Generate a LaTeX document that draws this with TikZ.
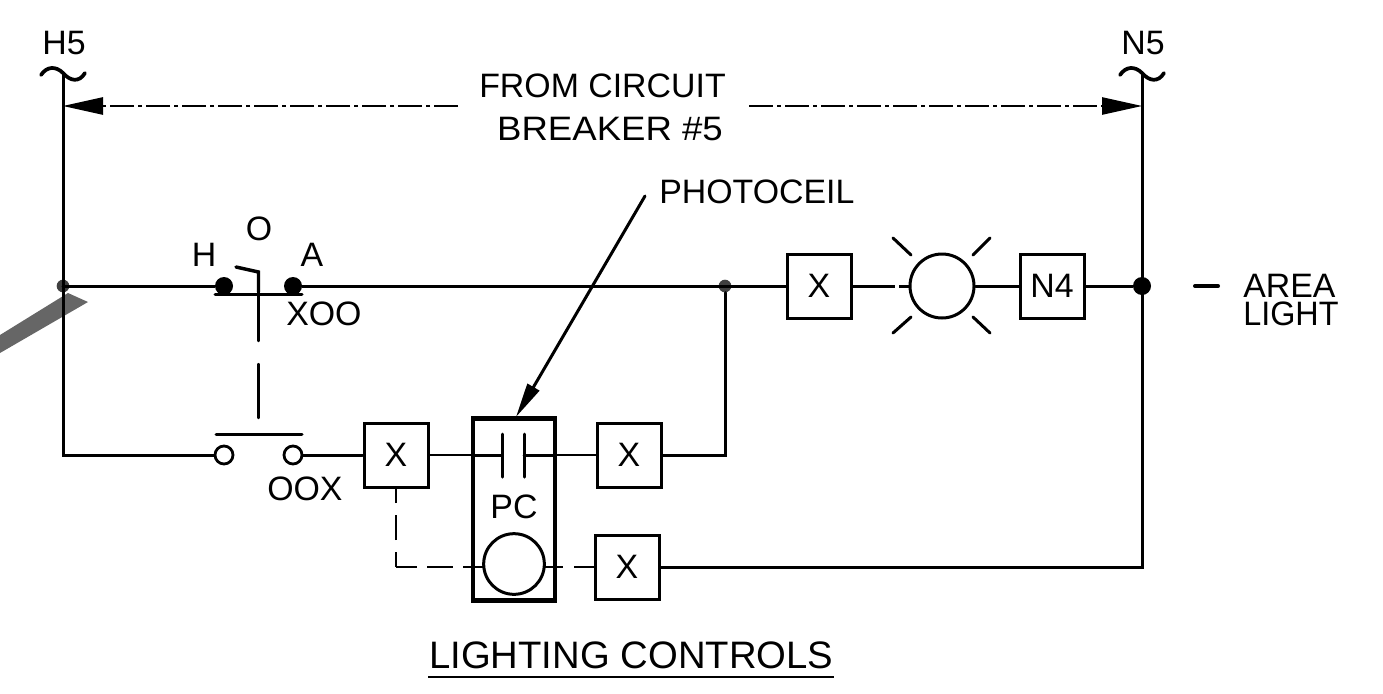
\documentclass[tikz,border=0pt]{standalone}
\usepackage{fontspec}
\setmainfont{Liberation Sans}
\usetikzlibrary{arrows.meta}
\newcommand{\basefont}{\fontsize{25.4}{28}\selectfont}
\tikzset{
  wire/.style={line width=2.25pt,line cap=round,line join=miter},
  thin wire/.style={line width=1.8pt,line cap=round},
  ctl/.style={line width=1.7pt,line cap=butt,line join=miter},
  relay/.style={draw,line width=2.25pt,minimum size=48pt,inner sep=0pt,font=\basefont,fill=white},
  lbl/.style={inner sep=0pt,anchor=base,font=\basefont},
  lbll/.style={inner sep=0pt,anchor=base west,font=\basefont},
  bigdot/.style={circle,fill=black,inner sep=0pt,minimum size=13.5pt},
  smalldot/.style={circle,fill=black!75,inner sep=0pt,minimum size=9.5pt},
  opendot/.style={circle,draw,line width=2.1pt,fill=white,inner sep=0pt,minimum size=13.5pt},
  lamp/.style={circle,draw,line width=2.25pt,inner sep=0pt,minimum size=48pt},
  coil/.style={circle,draw,line width=2.25pt,inner sep=0pt,minimum size=45.5pt},
  tip/.style={-{Triangle[length=30pt,width=13pt]}},
  leadtip/.style={-{Triangle[length=26pt,width=10pt]}},
  dimline/.style={line width=1.1pt,dash pattern=on 18pt off 3pt on 3pt off 3pt},
}
\begin{document}
\begin{tikzpicture}[x=0.75pt,y=-0.75pt]
\useasboundingbox (0,0) rectangle (1383,693);
\fill[black!60] (0,335) -- (68,293) -- (88,302) -- (0,353) -- cycle;

\coordinate (hTop) at (63,74);
\coordinate (nTop) at (1142,74);
\coordinate (hMain) at (63,286);
\coordinate (hLow) at (63,455);
\coordinate (nLow) at (1142,567);
\coordinate (dimL) at (63,106);
\coordinate (dimR) at (1142,106);
\coordinate (dimLe) at (458,106);
\coordinate (dimRe) at (749,106);
\coordinate (lead) at (645,196);
\coordinate (leadTip) at (516,417);
\coordinate (jCtl) at (725,455);

% labels
\node[lbl] (tH5) at (64,54) {H5};
\node[lbl] (tN5) at (1143,54) {N5};
\node[lbl] (tFrom) at (602.5,97) {FROM CIRCUIT};
\node[lbl] (tBreak) at (610,140) {\scalebox{1.08}[1]{BREAKER \#5}};
\node[lbll] (tPhoto) at (659,203) {PHOTOCEIL};
\node[lbl] (tO) at (259,240) {O};
\node[lbl] (tH) at (204,266) {H};
\node[lbl] (tA) at (312,266) {A};
\node[lbll] (tXOO) at (286,325) {XOO};
\node[lbll] (tOOX) at (267,500) {OOX};
\node[lbl] (tPC) at (514,518) {PC};
\node[lbll] (tArea) at (1243,297) {AREA};
\node[lbll] (tLight) at (1243,325) {\scalebox{0.955}[1]{LIGHT}};
\node[lbll,font=\fontsize{28.7}{32}\selectfont] (tCtl) at (429,668) {LIGHTING CONTROLS};
\coordinate (uL) at (428,677);
\coordinate (uR) at (834,677);
\draw[line width=2pt] (uL) -- (uR);

% tildes
\foreach \x in {63,1142}{
  \draw[line width=2.8pt,line cap=round] (\x-22,75) .. controls (\x-16,66) and (\x-7,66) .. (\x,73) .. controls (\x+7,81) and (\x+16,83) .. (\x+22,73);
}

% nodes on the main rung
\node[bigdot] (sw1L) at (224,286) {};
\node[bigdot] (sw1R) at (293,286) {};
\node[smalldot] (jL) at (63,286) {};
\node[smalldot] (jM) at (725,286) {};
\node[bigdot] (jR) at (1142,286) {};
\node[relay] (x1) at (819,286) {X};
\node[lamp] (lampN) at (942,286) {};
\node[relay] (n4) at (1052,286) {N4};
% lower rung
\node[opendot] (sw2L) at (224,455) {};
\node[opendot] (sw2R) at (293,455) {};
\node[relay] (x2) at (396,455) {X};
\node[relay] (x3) at (629,455) {X};
\node[relay] (x4) at (627,567) {X};
\node[coil] (pcCoil) at (514,564) {};
\coordinate (cap1) at (502,455);
\coordinate (cap2) at (524,455);
\coordinate (boxL) at (473,455);
\coordinate (boxR) at (555,455);
\coordinate (gapA) at (895,286);
\coordinate (gapB) at (899,286);
\coordinate (corner) at (396,567);
\coordinate (coilW) at (483,567);
\coordinate (coilE) at (545,567);

% buses
\draw[wire] (hTop) -- (hLow) -- (sw2L);
\draw[wire] (nTop) -- (nLow) -- (x4);
\draw[wire] (hMain) -- (sw1L);
\draw[wire] (sw1R) -- (x1);
\draw[wire,line cap=butt] (x1) -- (gapA);
\draw[wire,line cap=butt] (gapB) -- (lampN);
\draw[wire] (lampN) -- (n4);
\draw[wire] (n4) -- (jR);
\draw[wire] (jM) -- (jCtl) -- (x3);
\draw[wire] (sw2R) -- (x2);
\draw[thin wire] (x2) -- (boxL);
\draw[wire] (boxL) -- (cap1);
\draw[wire] (cap2) -- (boxR);
\draw[thin wire] (boxR) -- (x3);

% capacitor contact
\draw[wire] (502,434) -- (502,477);
\draw[wire] (524,434) -- (524,477);

% photocell box
\node[draw,line width=3.6pt,minimum width=61.5pt,minimum height=137pt,inner sep=0pt] (pcBox) at (514,509.5) {};

% switch
\draw[wire] (215,294) -- (302,294);
\draw[line width=2.6pt,line cap=round] (236,267) -- (258.5,272) -- (258.5,292);
\draw[thin wire] (258.5,292) -- (258.5,341);
\draw[thin wire] (258.5,364) -- (258.5,418);
\draw[wire] (216,434) -- (302,434);

% mechanical link
\draw[ctl,dash pattern=on 11.25pt off 9pt on 18.75pt off 9pt on 12pt off 30pt] (corner) -- (x2.south);
\draw[ctl,dash pattern=on 15.75pt off 7.5pt on 19.5pt off 7.5pt on 15pt off 30pt] (corner) -- (coilW);
\draw[ctl,dash pattern=on 15pt off 8pt on 15pt off 8pt on 20pt off 30pt] (x4.west) -- (coilE);

% lamp rays
\draw[wire] (893,238) -- (911,255);
\draw[wire] (990,238) -- (973,255);
\draw[wire] (893,333) -- (911,317);
\draw[wire] (990,333) -- (973,317);

% dimension lines
\draw[dimline,tip] (dimLe) -- (dimL);
\draw[dimline,tip] (dimRe) -- (dimR);
\draw[wire,leadtip] (lead) -- (leadTip);

% dash before AREA LIGHT
\coordinate (dashA) at (1195,286);
\coordinate (dashB) at (1218,286);
\draw[line width=3pt,line cap=round] (dashA) -- (dashB);
\end{tikzpicture}
\end{document}
